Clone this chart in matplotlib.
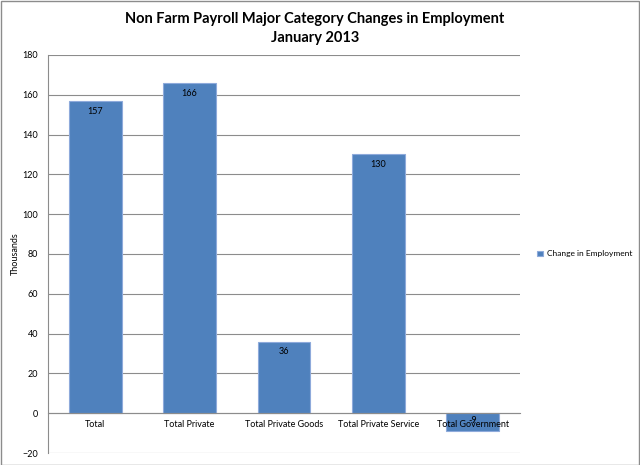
import matplotlib
matplotlib.use("Agg")
from matplotlib import pyplot as plt
import numpy as np

categories = ["Total", "Total Private", "Total Private Goods", "Total Private Service", "Total Government"]
changes = [157, 166, 36, 130, -9]  # thousands
series_name = "Change in Employment"

plt.rcParams['font.family'] = ['Lato', 'DejaVu Sans']

fig = plt.figure(figsize=(6.4, 4.65), dpi=100)
ax = fig.add_axes([0.075, 0.0258, 0.7375, 0.856])

x = np.arange(len(categories))
yticks = np.arange(-20, 181, 20)

# grid drawn under the bars, axis (tick labels) on top like Excel does
ax.hlines(yticks, -0.5, len(categories) - 0.5, colors='#8c8c8c', linewidth=0.8, zorder=0.5)
bars = ax.bar(x, changes, width=0.56, color='#4F81BD', edgecolor='#8EAADB',
              linewidth=0.8, label=series_name, zorder=1)
ax.set_axisbelow(False)

for xi, v in zip(x, changes):
    off = -7.5 if v > 0 else 7.5
    ax.annotate(str(v), (xi, v), xytext=(0, off), textcoords='offset points',
                ha='center', va='center', fontsize=6.5, color='black', zorder=4)

ax.set_xlim(-0.5, len(categories) - 0.5)
ax.set_ylim(-20, 180)
ax.set_yticks(yticks)
ax.tick_params(axis='y', length=0, labelsize=6.5, pad=7)
ax.set_xticks(x)
ax.set_xticklabels(categories)
ax.tick_params(axis='x', length=0, pad=5, labelsize=6.5)

for s in ['top', 'right']:
    ax.spines[s].set_visible(False)
ax.spines['left'].set_color('#8c8c8c')
ax.spines['bottom'].set_position(('data', 0))
ax.spines['bottom'].set_color('#8c8c8c')

ax.set_ylabel('Thousands', fontsize=6.5)
ax.yaxis.set_label_coords(-0.06, 0.5)

fig.suptitle('Non Farm Payroll Major Category Changes in Employment\nJanuary 2013',
             fontsize=10.5, fontweight='bold', y=0.975, x=0.492, linespacing=1.5)

fig.legend(loc='center left', bbox_to_anchor=(0.827, 0.454), frameon=False,
           fontsize=6, handlelength=0.7, handleheight=0.7, handletextpad=0.5)

fig.patches.append(plt.Rectangle((0.001, 0.001), 0.997, 0.997, transform=fig.transFigure,
                                 fill=False, edgecolor='#8c8c8c', linewidth=1))

fig.savefig('out.png', dpi=100)
